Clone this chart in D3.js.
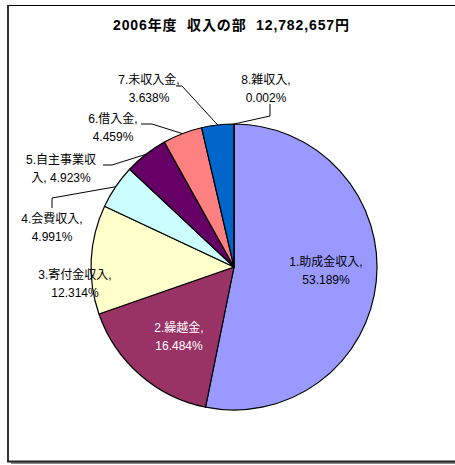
<!DOCTYPE html>
<html>
<head>
<meta charset="utf-8">
<script src="https://cdn.jsdelivr.net/npm/d3@7"></script>
<style>
  body { margin: 0; background: #fff; }
  text { font-family: "Liberation Sans", "Noto Sans CJK JP", sans-serif; }
</style>
</head>
<body>
<div class="pie"></div>
<script>
// data
const categories = ["1.助成金収入", "2.繰越金", "3.寄付金収入", "4.会費収入", "5.自主事業収入", "6.借入金", "7.未収入金", "8.雑収入"];
const shares = [53.189, 16.484, 12.314, 4.991, 4.923, 4.459, 3.638, 0.002];
const colours = ["#9999FF", "#993366", "#FFFFCC", "#CCFFFF", "#660066", "#FF8080", "#0066CC", "#C0C0C0"];
const title = "2006年度\u00a0\u00a0収入の部\u00a0\u00a012,782,657円";

// layout
const width = 455, height = 465;
const cx = 234, cy = 267, radius = 143;

// label centres (relative to pie centre) and leader elbows (relative to label)
const labelLayout = [
  {x: 92, y: -5, inside: true},
  {x: -55, y: 61, inside: true, white: true},
  {x: -159, y: 8},
  {x: -182, y: -48, leader: [[0, -11], [0, -21]]},
  {x: -173, y: -107, leader: [[42, 5], [51, 5]], breakAt: 7},
  {x: -121, y: -148, leader: [[28, 5], [39, 5]]},
  {x: -85, y: -187, leader: [[27, 6], [33, 6]]},
  {x: 32, y: -187, leader: [[4, 24], [4, 36]]}
];

var svg = d3.select(".pie")
    .append("svg")
    .attr("width", width)
    .attr("height", height);

// frame with shadow
svg.append("rect")
    .attr("x", 11).attr("y", 9)
    .attr("width", 460).attr("height", 455)
    .attr("fill", "#8a8a8a");
svg.append("rect")
    .attr("x", 7.5).attr("y", 5.5)
    .attr("width", 460).attr("height", 456)
    .attr("fill", "#fff")
    .attr("stroke", "#000")
    .attr("stroke-width", 1);
svg.append("line")
    .attr("x1", 8).attr("x2", 8)
    .attr("y1", 5).attr("y2", 462)
    .attr("stroke", "#333")
    .attr("stroke-width", 2);
svg.append("line")
    .attr("x1", 7).attr("x2", 460)
    .attr("y1", 461.5).attr("y2", 461.5)
    .attr("stroke", "#222")
    .attr("stroke-width", 2);

svg.append("text")
    .attr("x", 231)
    .attr("y", 30)
    .attr("text-anchor", "middle")
    .attr("font-size", "14px")
    .attr("font-weight", "bold")
    .attr("textLength", 236)
    .attr("lengthAdjust", "spacing")
    .text(title);

const data = categories.map(function(c, i) {
    return {name: c, value: shares[i], colour: colours[i], layout: labelLayout[i]};
});

const pie = d3.pie()
    .sort(null)
    .value(function(d) { return d.value; });

const arc = d3.arc().innerRadius(0).outerRadius(radius);
const edge = d3.arc().innerRadius(radius).outerRadius(radius);

const g = svg.append("g")
    .attr("transform", "translate(" + cx + "," + cy + ")");

const arcs = pie(data);

g.selectAll("path.slice")
    .data(arcs)
    .enter()
    .append("path")
    .attr("class", "slice")
    .attr("d", arc)
    .attr("fill", function(d) { return d.data.colour; })
    .attr("stroke", "#000")
    .attr("stroke-width", 1.2)
    .attr("stroke-linejoin", "round");

// leader lines
arcs.forEach(function(d) {
    const L = d.data.layout;
    if (!L.leader) return;
    const pts = L.leader.map(function(p) { return [L.x + p[0], L.y + p[1]]; });
    pts.push(edge.centroid(d));
    g.append("path")
        .attr("d", d3.line()(pts))
        .attr("fill", "none")
        .attr("stroke", "#000")
        .attr("stroke-width", 1);
});

// labels
arcs.forEach(function(d) {
    const L = d.data.layout;
    const full = d.data.name + ", " + d.data.value.toFixed(3) + "%";
    let lines;
    if (L.breakAt) {
        lines = [full.slice(0, L.breakAt), full.slice(L.breakAt)];
    } else {
        lines = [d.data.name + ",", d.data.value.toFixed(3) + "%"];
    }
    const t = g.append("text")
        .attr("text-anchor", "middle")
        .attr("font-size", "12px")
        .attr("fill", L.white ? "#fff" : "#000");
    lines.forEach(function(s, k) {
        t.append("tspan")
            .attr("x", L.x)
            .attr("y", L.y + k * 18 + 4)
            .text(s);
    });
});
</script>
</body>
</html>
